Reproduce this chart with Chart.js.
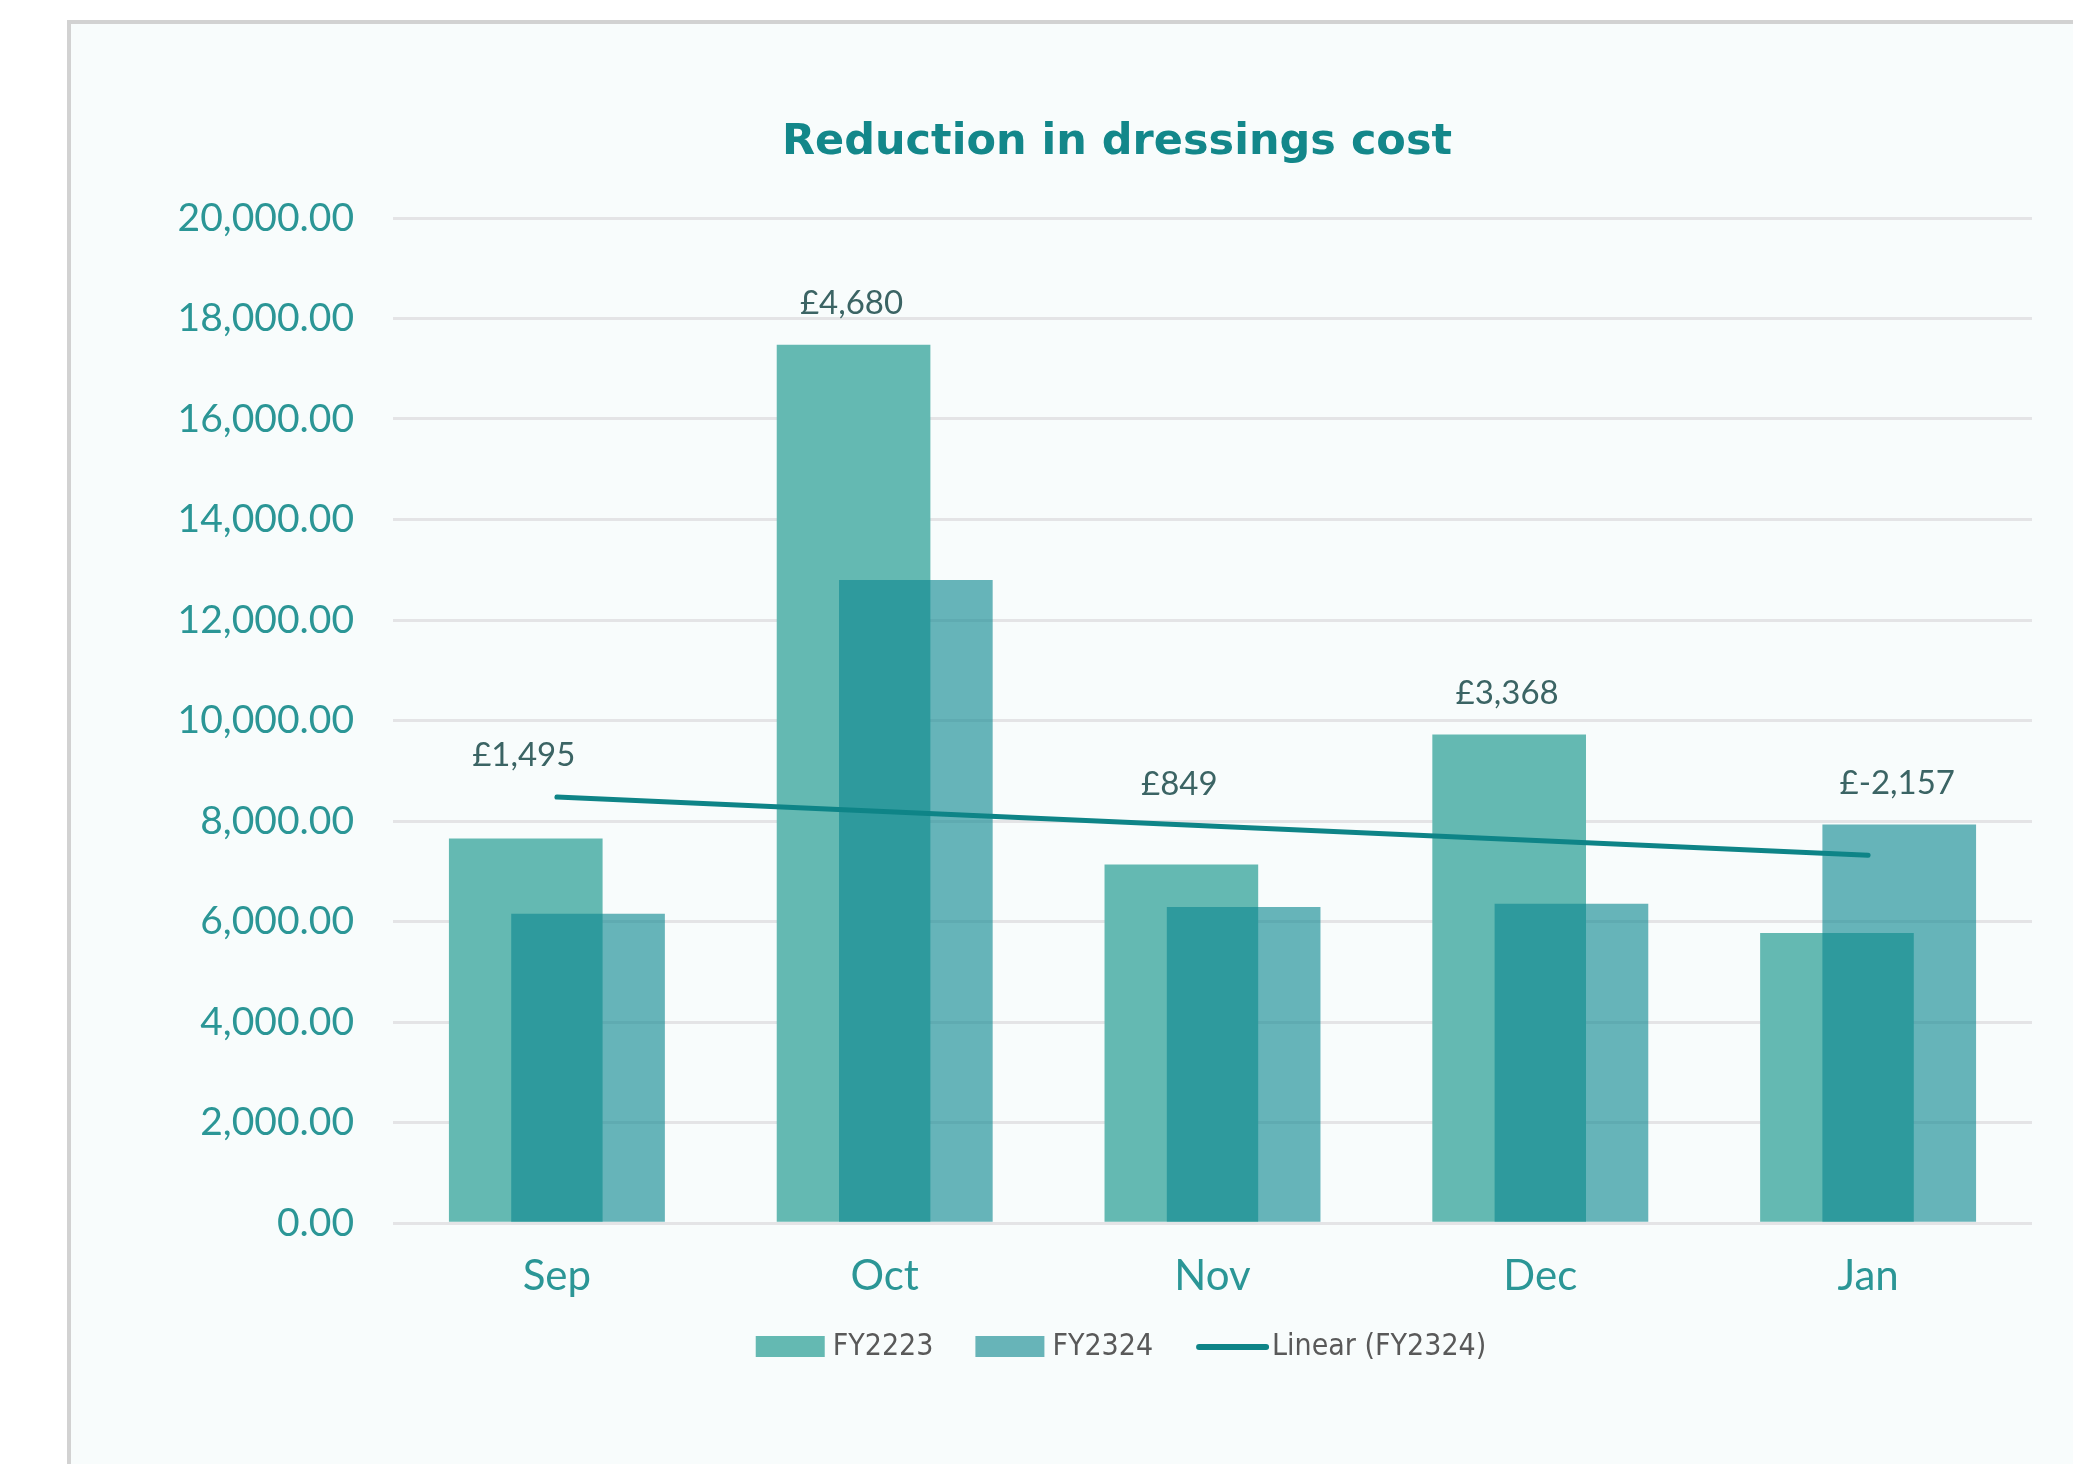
<!DOCTYPE html>
<html>
<head>
<meta charset="utf-8">
<script src="https://cdn.jsdelivr.net/npm/chart.js@4.4.1/dist/chart.umd.min.js"></script>
<style>
  html, body { margin: 0; padding: 0; background: #ffffff; overflow: hidden; }
  #frame {
    position: absolute; left: 67px; top: 20px;
    width: 2092px; height: 1440px;
    border-left: 4px solid #d2d2d2; border-top: 4px solid #d2d2d2;
    background: #f8fcfc;
  }
</style>
</head>
<body>
<div id="frame"><canvas id="myChart"></canvas></div>
<script>
// months on the x axis
const months = ["Sep", "Oct", "Nov", "Dec", "Jan"];
// dressings spend per month
const fy2223 = [7645, 17470, 7129, 9713, 5765];
const fy2324 = [6150, 12790, 6280, 6345, 7922];
// labels written above each month (FY2223 minus FY2324)
const savings = [1495, 4680, 849, 3368, -2157];
// y axis ticks
const yTicks = [0, 2000, 4000, 6000, 8000, 10000, 12000, 14000, 16000, 18000, 20000];

const col2223 = "#64b9b2";
const col2324 = "rgba(13, 135, 143, 0.62)";
const colTrend = "#0e8487";

// linear trend of FY2324 (what Excel's "Linear" trendline does)
function linearFit(vals) {
    const n = vals.length;
    let mx = 0, my = 0;
    vals.forEach((v, i) => { mx += i; my += v; });
    mx /= n; my /= n;
    let sxy = 0, sxx = 0;
    vals.forEach((v, i) => { sxy += (i - mx) * (v - my); sxx += (i - mx) * (i - mx); });
    const slope = sxy / sxx;
    return i => my + slope * (i - mx);
}
const trend = linearFit(fy2324);
const trendPts = [{x: 0, y: trend(0)}, {x: months.length - 1, y: trend(months.length - 1)}];

const shift = 0.095;

// title centred on the whole chart box, not on the plot
const centredTitle = {
    id: "centredTitle",
    afterDraw(chart) {
        const ctx = chart.ctx;
        ctx.save();
        ctx.font = "bold 43px 'DejaVu Sans'";
        ctx.fillStyle = "#13878a";
        ctx.textAlign = "center";
        ctx.textBaseline = "middle";
        ctx.fillText("Reduction in dressings cost", chart.width / 2, 119);
        ctx.restore();
    }
};

// difference labels above the bars
const savingsLabels = {
    id: "savingsLabels",
    afterDatasetsDraw(chart) {
        const ctx = chart.ctx;
        const y = chart.scales.y;
        const m1 = chart.getDatasetMeta(0), m2 = chart.getDatasetMeta(1);
        ctx.save();
        ctx.font = "33px Lato";
        ctx.fillStyle = "#3b6464";
        ctx.textAlign = "center";
        ctx.textBaseline = "middle";
        savings.forEach((s, i) => {
            const tall = fy2223[i] >= fy2324[i] ? m1.data[i] : m2.data[i];
            const top = Math.min(y.getPixelForValue(Math.max(fy2223[i], fy2324[i])), y.getPixelForValue(trend(i)));
            const txt = "£" + s.toLocaleString("en-GB");
            ctx.fillText(txt, tall.x - 2, top - 42);
        });
        ctx.restore();
    }
};

// legend at the bottom
const bottomLegend = {
    id: "bottomLegend",
    afterDraw(chart) {
        const ctx = chart.ctx;
        const items = [
            {text: "FY2223", kind: "box", color: col2223},
            {text: "FY2324", kind: "box", color: "#67b4b8"},
            {text: "Linear (FY2324)", kind: "line", color: colTrend}
        ];
        ctx.save();
        ctx.font = "30px 'Liberation Sans Narrow', 'DejaVu Sans Condensed', sans-serif";
        ctx.textBaseline = "middle";
        const sw = 69, gap = 8, itemGap = 42;
        let total = 0;
        items.forEach((it, k) => {
            it.w = ctx.measureText(it.text).width;
            total += sw + gap + it.w + (k ? itemGap : 0);
        });
        let x = chart.width / 2 - total / 2 + 4;
        const cy = 1323;
        items.forEach(it => {
            if (it.kind === "box") {
                ctx.fillStyle = it.color;
                ctx.fillRect(x, cy - 11, sw, 21);
            } else {
                ctx.strokeStyle = it.color;
                ctx.lineWidth = 6;
                ctx.lineCap = "round";
                ctx.beginPath();
                ctx.moveTo(x + 4, cy);
                ctx.lineTo(x + sw + 2, cy);
                ctx.stroke();
            }
            ctx.fillStyle = "#595959";
            ctx.fillText(it.text, x + sw + gap, cy);
            x += sw + gap + it.w + itemGap;
        });
        ctx.restore();
    }
};

new Chart("myChart", {
    type: "bar",
    data: {
        datasets: [{
            label: "FY2223",
            backgroundColor: col2223,
            data: fy2223.map((v, i) => ({x: i - shift, y: v})),
            order: 3
        }, {
            label: "FY2324",
            backgroundColor: col2324,
            data: fy2324.map((v, i) => ({x: i + shift, y: v})),
            order: 2
        }, {
            type: "line",
            label: "Linear (FY2324)",
            data: trendPts,
            borderColor: colTrend,
            borderWidth: 5,
            borderCapStyle: "round",
            pointRadius: 0,
            fill: false,
            order: 1
        }]
    },
    options: {
        responsive: true,
        maintainAspectRatio: false,
        animation: false,
        layout: {padding: {left: 0, right: 131, top: 194, bottom: 0}},
        datasets: {bar: {grouped: false, barThickness: 153}},
        plugins: {
            legend: {display: false},
            tooltip: {enabled: false},
            title: {display: false}
        },
        scales: {
            x: {
                type: "linear",
                offset: false,
                min: -0.5,
                max: months.length - 0.5,
                afterBuildTicks: s => { s.ticks = months.map((_, i) => ({value: i})); },
                afterFit: s => { s.height = 241; },
                grid: {display: false},
                border: {display: false},
                ticks: {
                    callback: v => months[v],
                    autoSkip: false,
                    maxRotation: 0,
                    padding: 20,
                    color: "#2b9696",
                    font: {family: "Lato", size: 42}
                }
            },
            y: {
                min: 0,
                max: 20000,
                afterBuildTicks: s => { s.ticks = yTicks.map(v => ({value: v})); },
                afterFit: s => { s.width = 322; },
                grid: {color: "#e4e4e6", lineWidth: 3, drawTicks: false},
                border: {display: false},
                ticks: {
                    padding: 39,
                    color: "#2b9696",
                    font: {family: "Lato", size: 39},
                    callback: v => v.toLocaleString("en-GB", {minimumFractionDigits: 2, maximumFractionDigits: 2})
                }
            }
        }
    },
    plugins: [centredTitle, savingsLabels, bottomLegend]
});
</script>
</body>
</html>
